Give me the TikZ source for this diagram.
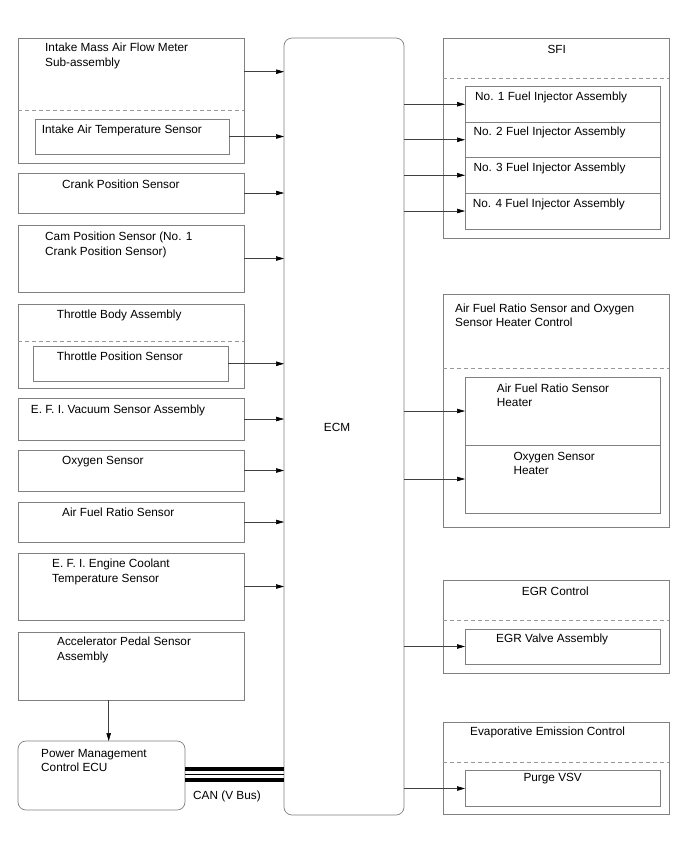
\documentclass[tikz,border=0pt]{standalone}
\usepackage{fontspec}
\setmainfont{Liberation Sans}
\usetikzlibrary{arrows.meta,calc}
\definecolor{boxgray}{HTML}{808080}
\definecolor{dashgray}{HTML}{999999}
\begin{document}
\begin{tikzpicture}[x=1pt,y=-1pt,
  bx/.style={draw=boxgray, line width=0.7pt, inner sep=0pt, outer sep=0pt, anchor=north west},
  rbx/.style={bx, rounded corners=8pt},
  lbl/.style={anchor=north west, inner sep=0pt, align=left, font=\fontsize{11.8}{14.4}\selectfont},
  clbl/.style={lbl, anchor=north},
  arr/.style={draw=black!75, line width=0.6pt, -{Triangle[length=8pt,width=4.5pt,color=black]}},
  dsh/.style={draw=dashgray, line width=0.6pt, dash pattern=on 4pt off 3pt},
  canthick/.style={draw=black, line width=3.8pt},
  canthin/.style={draw=black, line width=0.9pt}]
\useasboundingbox (0,0) rectangle (688,852);
\fill[white] (0,0) rectangle (688,852);
% box macro: name, x1, y1, x2, y2
\newcommand{\mybox}[6][bx]{\node[#1, minimum width={(#5-#3)*1pt}, minimum height={(#6-#4)*1pt}] (#2) at (#3,#4) {};}
% left side
\mybox{intake}{18}{38}{244}{163}
\mybox{iat}{35}{119}{229}{154}
\mybox{crank}{18}{173}{244}{213}
\mybox{cam}{18}{225}{244}{292}
\mybox{tb}{18}{304}{244}{388}
\mybox{tps}{33}{346}{228}{381.5}
\mybox{vac}{18}{398}{244}{440}
\mybox{oxs}{18}{450}{244}{491}
\mybox{afs}{18}{502}{244}{542}
\mybox{ect}{18}{553}{244}{620}
\mybox{app}{18}{632}{244}{700}
\mybox[rbx]{pm}{18}{741}{185}{810}
% ECM
\mybox[rbx]{ecm}{284}{38}{404}{815}
% right side
\mybox{sfi}{443}{38}{669}{238}
\mybox{inj1}{465}{86.5}{660}{122}
\mybox{inj2}{465}{122}{660}{157.5}
\mybox{inj3}{465}{157.5}{660}{193}
\mybox{inj4}{465}{193}{660}{229}
\mybox{afc}{443}{294}{669}{527}
\mybox{afh}{465}{377}{660}{445}
\mybox{osh}{465}{445}{660}{513}
\mybox{egr}{443}{580.5}{669}{673}
\mybox{egrv}{465}{629}{660}{664}
\mybox{evap}{443}{722}{669}{814}
\mybox{vsv}{465}{770.5}{660}{806.5}
% dashed separators
\draw[dsh] ([yshift=-72.7pt]intake.north west) -- ([yshift=-72.7pt]intake.north east);
\draw[dsh] ([yshift=-37pt]tb.north west) -- ([yshift=-37pt]tb.north east);
\draw[dsh] ([yshift=-40.3pt]sfi.north west) -- ([yshift=-40.3pt]sfi.north east);
\draw[dsh] ([yshift=-74.3pt]afc.north west) -- ([yshift=-74.3pt]afc.north east);
\draw[dsh] ([yshift=-40.2pt]egr.north west) -- ([yshift=-40.2pt]egr.north east);
\draw[dsh] ([yshift=-40.5pt]evap.north west) -- ([yshift=-40.5pt]evap.north east);
% labels
\node[lbl] (tintake) at (45,43) {Intake Mass Air Flow Meter\\Sub-assembly};
\node[lbl] (tiat) at (41.7,125) {Intake Air Temperature Sensor};
\node[lbl] (tcrank) at (62,180) {Crank Position Sensor};
\node[lbl] (tcam) at (45,232) {Cam Position Sensor (No. 1\\Crank Position Sensor)};
\node[lbl] (ttb) at (56.7,310) {Throttle Body Assembly};
\node[lbl] (ttps) at (56.7,351.7) {Throttle Position Sensor};
\node[lbl] (tvac) at (30.7,404.5) {E. F. I. Vacuum Sensor Assembly};
\node[lbl] (toxs) at (62,456) {Oxygen Sensor};
\node[lbl] (tafs) at (62,508) {Air Fuel Ratio Sensor};
\node[lbl] (tect) at (52,559) {E. F. I. Engine Coolant\\Temperature Sensor};
\node[lbl] (tapp) at (57,637) {Accelerator Pedal Sensor\\Assembly};
\node[lbl] (tpm) at (41,749) {Power Management\\Control ECU};
\node[lbl] (tcan) at (193,791) {CAN (V Bus)};
\node[anchor=center, inner sep=0pt, font=\fontsize{11.8}{14.4}\selectfont] (tecm) at (337,427) {ECM};
\node[clbl] (tsfi) at (556.7,45) {SFI};
\node[lbl] (tinj1) at (475,91.7) {No. 1 Fuel Injector Assembly};
\node[lbl] (tinj2) at (473.3,126.7) {No. 2 Fuel Injector Assembly};
\node[lbl] (tinj3) at (473.3,162.3) {No. 3 Fuel Injector Assembly};
\node[lbl] (tinj4) at (472.7,198.3) {No. 4 Fuel Injector Assembly};
\node[lbl] (tafc) at (455,303.3) {Air Fuel Ratio Sensor and Oxygen\\Sensor Heater Control};
\node[lbl] (tafh) at (496.7,383.3) {Air Fuel Ratio Sensor\\Heater};
\node[lbl] (tosh) at (513.3,451.7) {Oxygen Sensor\\Heater};
\node[lbl] (tegr) at (521.7,586.7) {EGR Control};
\node[lbl] (tegrv) at (496,633.3) {EGR Valve Assembly};
\node[lbl] (tevap) at (470,726.7) {Evaporative Emission Control};
\node[lbl] (tvsv) at (523.3,773) {Purge VSV};
% input arrows
\coordinate (i1) at ($(intake.north east)+(0,33.7)$);
\draw[arr] (i1) -- (i1 -| ecm.west);
\foreach \n in {iat,crank,cam,tps,vac,oxs,afs,ect}
  \draw[arr] (\n.east) -- (\n.east -| ecm.west);
% output arrows
\foreach \n in {inj1,inj2,inj3,inj4,afh,osh,egrv,vsv}
  \draw[arr] (\n.west -| ecm.east) -- (\n.west);
% accelerator to power management
\coordinate (apb) at ($(app.south west)+(90.7,0)$);
\draw[arr] (apb) -- (apb |- pm.north);
% CAN bus
\coordinate (ca) at ([yshift=6.8pt]pm.east);
\coordinate (cb) at ([yshift=1pt]pm.east);
\coordinate (cc) at ([yshift=-4.8pt]pm.east);
\draw[canthick] (ca) -- (ca -| ecm.west);
\draw[canthin] (cb) -- (cb -| ecm.west);
\draw[canthick] (cc) -- (cc -| ecm.west);
\end{tikzpicture}
\end{document}
